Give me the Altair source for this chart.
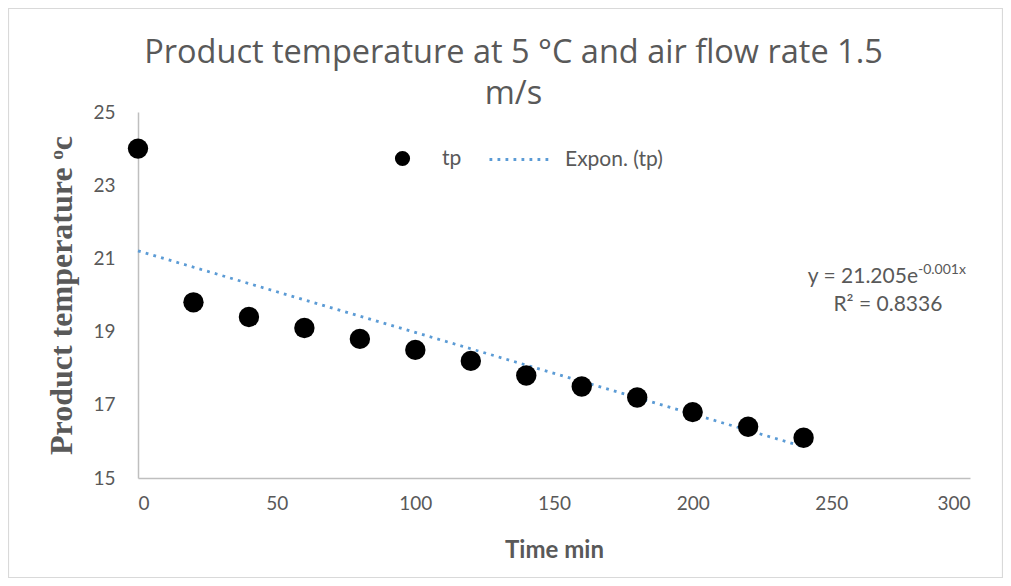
import altair as alt
import pandas as pd

time_min = [0, 20, 40, 60, 80, 100, 120, 140, 160, 180, 200, 220, 240]
tp = [24.0, 19.8, 19.4, 19.1, 18.8, 18.5, 18.2, 17.8, 17.5, 17.2, 16.8, 16.4, 16.1]
x_ticks = [0, 50, 100, 150, 200, 250, 300]
y_ticks = [15, 17, 19, 21, 23, 25]

df = pd.DataFrame({"x": time_min, "y": tp})

GREY = "#595959"
BLUE = "#5B9BD5"
W, H = 832, 366

xs = alt.Scale(domain=[0, 300], nice=False)
ys = alt.Scale(domain=[15, 25], nice=False, zero=False)

xax = alt.Axis(values=x_ticks, title="Time min", grid=False, ticks=False,
               domainColor="#BFBFBF", domainWidth=1.5, labelFontSize=19, labelColor=GREY,
               labelPadding=16, labelFont="Lato", titleFont="Lato", titleFontSize=24,
               titleFontWeight="bold", titleColor=GREY, titlePadding=25)
yax = alt.Axis(values=y_ticks, title="Product temperature ᵒc", grid=False, ticks=False,
               domainColor="#BFBFBF", domainWidth=1.5, labelFontSize=19, labelColor=GREY,
               labelPadding=23, labelFont="Lato", titleFont="Liberation Serif",
               titleFontSize=32, titleFontWeight="bold", titleColor=GREY, titlePadding=14)

base = alt.Chart(df)

frame = base.mark_rect(fill="transparent", stroke="#D9D9D9", strokeWidth=1.2).encode(
    x=alt.value(-129.5), x2=alt.value(W + 32.5), y=alt.value(-103.5), y2=alt.value(H + 99.5)
).transform_filter("datum.x == 0")

points = base.mark_point(filled=True, size=415, opacity=1).encode(
    x=alt.X("x:Q", scale=xs, axis=xax),
    y=alt.Y("y:Q", scale=ys, axis=yax),
    color=alt.Color("s:N", scale=alt.Scale(domain=["tp"], range=["black"]),
                    legend=alt.Legend(title=None, orient="none", legendX=254, legendY=36,
                                      symbolSize=230, symbolType="circle", labelFontSize=21,
                                      labelColor=GREY, labelFont="Lato", labelOffset=29)),
).transform_calculate(s="'tp'")

trend = base.transform_calculate(lny="log(datum.y)").transform_regression(
    "x", "lny", method="linear"
).transform_calculate(
    yfit="exp(datum.lny)", s="'Expon. (tp)'"
).mark_line(color=BLUE, strokeWidth=2.8, strokeCap="butt").encode(
    x=alt.X("x:Q", scale=xs),
    y=alt.Y("yfit:Q", scale=ys),
    strokeDash=alt.StrokeDash("s:N", scale=alt.Scale(domain=["Expon. (tp)"], range=[[2.8, 5.2]]),
                              legend=alt.Legend(title=None, orient="none", legendX=350, legendY=14,
                                                symbolSize=4096, symbolType="stroke",
                                                symbolStrokeColor=BLUE, symbolStrokeWidth=2.8,
                                                labelFontSize=21, labelColor=GREY, labelFont="Lato",
                                                labelOffset=10)),
)

eq_df = pd.DataFrame({"x": [281.25], "y": [20.49]})
eq1 = alt.Chart(eq_df).mark_text(align="right", baseline="middle", fontSize=21,
                                 font="Lato", color=GREY).encode(
    x=alt.X("x:Q", scale=xs), y=alt.Y("y:Q", scale=ys), text=alt.value("y = 21.205e"))
eq2 = alt.Chart(eq_df).mark_text(align="left", baseline="middle", fontSize=14, dy=-7,
                                 font="Lato", color=GREY).encode(
    x=alt.X("x:Q", scale=xs), y=alt.Y("y:Q", scale=ys), text=alt.value("-0.001x"))
r2_df = pd.DataFrame({"x": [270.4], "y": [19.73]})
eq3 = alt.Chart(r2_df).mark_text(align="center", baseline="middle", fontSize=21,
                                 font="Lato", color=GREY).encode(
    x=alt.X("x:Q", scale=xs), y=alt.Y("y:Q", scale=ys), text=alt.value("R² = 0.8336"))

chart = alt.layer(frame, trend, points, eq1, eq2, eq3).properties(
    width=W, height=H,
    title=alt.TitleParams(["Product temperature at 5 °C and air flow rate 1.5", "m/s"],
                          font="Open Sans", fontSize=32.5, fontWeight="normal", color=GREY,
                          anchor="middle", frame="bounds", baseline="bottom",
                          dx=8, dy=136, offset=0, lineHeight=41),
    autosize=alt.AutoSizeParams(type="none"),
    padding={"left": 130, "top": 104, "right": 33, "bottom": 100},
).configure_view(stroke=None).resolve_legend(strokeDash="independent", color="independent")

chart.save("out.html", embed_options={"renderer": "svg", "actions": False})
